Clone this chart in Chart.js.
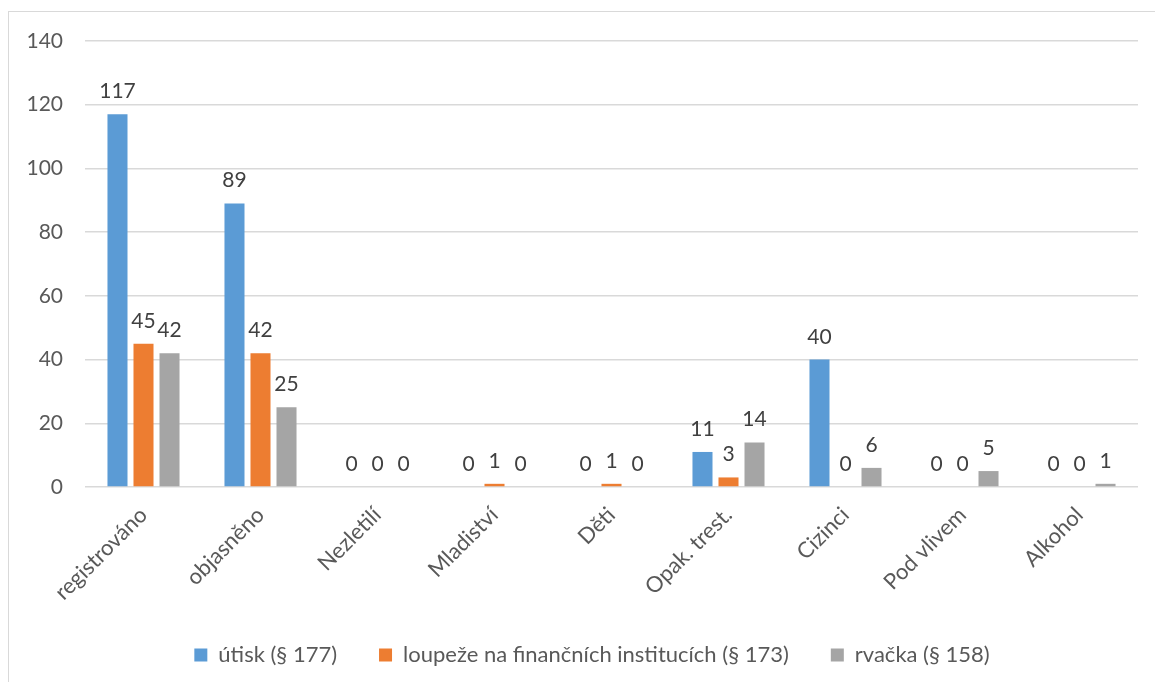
<!DOCTYPE html>
<html>
<head>
<meta charset="utf-8">
<title>Kriminalita</title>
<script src="https://cdn.jsdelivr.net/npm/chart.js@4/dist/chart.umd.min.js"></script>
<style>
  html, body { margin: 0; padding: 0; background: #fff; }
  #wrap { position: relative; width: 1155px; height: 682px; overflow: hidden; }
  #frame { position: absolute; left: 8px; top: 11px; width: 1200px; height: 700px; border: 1.5px solid #d9d9d9; box-sizing: border-box; }
  canvas { position: absolute; left: 0; top: 0; }
</style>
</head>
<body>
<div id="wrap">
  <div id="frame"></div>
  <canvas id="chart" width="1155" height="682"></canvas>
</div>
<script>
const labels = ["registrováno", "objasněno", "Nezletilí", "Mladiství", "Děti", "Opak. trest.", "Cizinci", "Pod vlivem", "Alkohol"];
const utisk = [117, 89, 0, 0, 0, 11, 40, 0, 0];
const loupeze = [45, 42, 0, 1, 1, 3, 0, 0, 0];
const rvacka = [42, 25, 0, 0, 0, 14, 6, 5, 1];
const yTicks = [0, 20, 40, 60, 80, 100, 120, 140];

const colors = {
  blue: "#5b9bd5",
  orange: "#ed7d31",
  gray: "#a5a5a5",
  grid: "#d9d9d9",
  text: "#595959",
  label: "#404040",
};

const font = "Lato, 'Open Sans', sans-serif";

// values above the bars, zeros included
const valueLabels = {
  id: "valueLabels",
  afterDatasetsDraw(chart) {
    const ctx = chart.ctx;
    ctx.save();
    ctx.font = "21px " + font;
    ctx.fillStyle = colors.label;
    ctx.textAlign = "center";
    ctx.textBaseline = "alphabetic";
    chart.data.datasets.forEach((ds, i) => {
      chart.getDatasetMeta(i).data.forEach((bar, j) => {
        ctx.fillText(String(ds.data[j]), bar.x, bar.y - 16);
      });
    });
    ctx.restore();
  },
};

// legend sits a bit right of the centre in the original
const legendShift = {
  id: "legendShift",
  afterLayout(chart) {
    if (chart.legend) {
      chart.legend.left += 13;
      chart.legend.right += 13;
    }
  },
};

const ctx = document.getElementById("chart").getContext("2d");

new Chart(ctx, {
  type: "bar",
  data: {
    labels: labels,
    datasets: [
      { label: "útisk (§ 177)", data: utisk, backgroundColor: colors.blue },
      { label: "loupeže na finančních institucích (§ 173)", data: loupeze, backgroundColor: colors.orange },
      { label: "rvačka (§ 158)", data: rvacka, backgroundColor: colors.gray },
    ],
  },
  options: {
    responsive: false,
    animation: false,
    categoryPercentage: 0.667,
    barPercentage: 0.77,
    layout: { padding: { left: 20, right: 17, top: 41, bottom: 6 } },
    plugins: {
      tooltip: { enabled: false },
      legend: {
        position: "bottom",
        labels: {
          color: colors.text,
          font: { family: font, size: 22 },
          boxWidth: 13,
          boxHeight: 13,
          padding: 42,
        },
      },
    },
    scales: {
      x: {
        grid: { display: false },
        border: { display: false },
        ticks: {
          color: colors.text,
          font: { family: font, size: 22 },
          maxRotation: 45,
          minRotation: 45,
          padding: 7,
        },
        afterFit(scale) { scale.height = 115; },
      },
      y: {
        min: 0,
        max: 140,
        afterBuildTicks(scale) { scale.ticks = yTicks.map(v => ({ value: v })); },
        grid: { color: colors.grid, lineWidth: 1.5, drawTicks: false },
        border: { display: false },
        ticks: {
          color: colors.text,
          font: { family: font, size: 21 },
          padding: 22,
        },
        afterFit(scale) { scale.width = 65; },
      },
    },
  },
  plugins: [valueLabels, legendShift],
});
</script>
</body>
</html>
